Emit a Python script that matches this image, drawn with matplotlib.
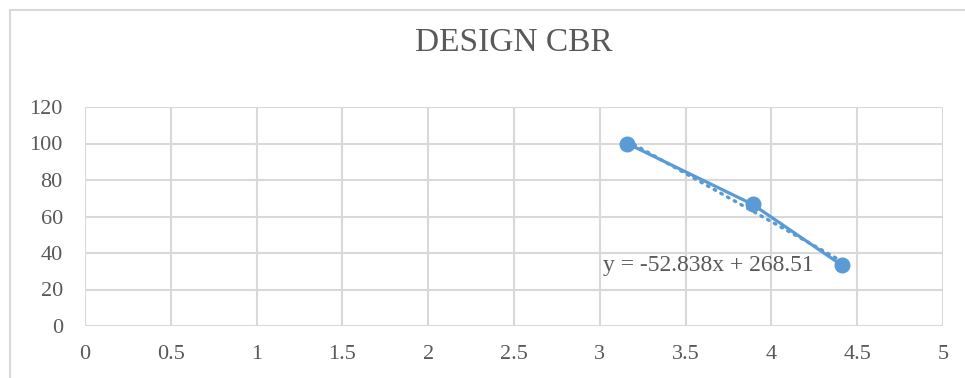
import matplotlib.pyplot as plt
from matplotlib.lines import Line2D
import numpy as np

# CBR test readings
penetration = [3.16, 3.89, 4.41]
cbr = [100, 66.67, 33.33]

# linear trendline as reported
slope = -52.838
intercept = 268.51

x_ticks = [0, 0.5, 1, 1.5, 2, 2.5, 3, 3.5, 4, 4.5, 5]
y_ticks = [0, 20, 40, 60, 80, 100, 120]

blue = '#5b9bd5'
text_grey = '#595959'
grid_grey = '#d9d9d9'

plt.rcParams['font.family'] = ['Liberation Serif', 'DejaVu Serif']

fig = plt.figure(figsize=(9.65, 3.78), dpi=100)
ax = fig.add_axes([85 / 965, 1 - 326 / 378, (943 - 85) / 965, (326 - 107) / 378])

# chart border (left and top edges visible)
fig.add_artist(Line2D([10 / 965, 10 / 965], [0, 1 - 10 / 378], transform=fig.transFigure,
                      color=grid_grey, lw=1.5))
fig.add_artist(Line2D([10 / 965, 1], [1 - 10 / 378, 1 - 10 / 378], transform=fig.transFigure,
                      color=grid_grey, lw=1.5))

ax.plot(penetration, cbr, color=blue, lw=2.3, marker='o', markersize=10.5, zorder=3)

trend_x = np.array([penetration[0], penetration[-1]])
ax.plot(trend_x, slope * trend_x + intercept, color=blue, lw=2.4, ls=(0, (0.5, 1.8)),
        dash_capstyle='round', zorder=2)

ax.text(3.02, 33.4, 'y = {:.3f}x + {:.2f}'.format(slope, intercept), fontsize=17,
        color=text_grey, va='center', ha='left', zorder=4)

ax.set_xlim(0, 5)
ax.set_ylim(0, 120)
ax.set_xticks(x_ticks)
ax.set_yticks(y_ticks)
ax.set_xticklabels([('%g' % v) for v in x_ticks])
ax.tick_params(length=0, labelsize=16, labelcolor=text_grey)
ax.tick_params(axis='y', pad=16)
ax.tick_params(axis='x', pad=14)
ax.grid(True, color=grid_grey, lw=1.5)
ax.set_axisbelow(True)
for s in ax.spines.values():
    s.set_visible(False)

fig.text((85 + 943) / 2 / 965, 1 - 43 / 378, 'DESIGN CBR', fontsize=24, color=text_grey,
         ha='center', va='center')

fig.savefig('out.png', dpi=100)
